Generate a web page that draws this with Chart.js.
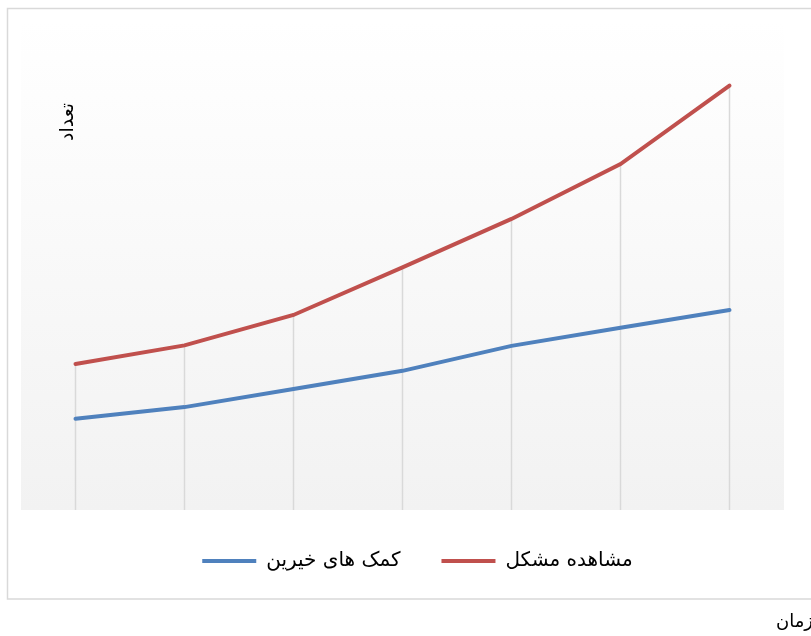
<!DOCTYPE html>
<html>
 <head>
  <meta charset="utf-8">
  <title>Chart</title>
  <style>
  html, body {
   margin: 0;
   padding: 0;
   background: #ffffff;
   overflow: hidden;
  }
  #wrap {
   position: relative;
   width: 811px;
   height: 636px;
   overflow: hidden;
  }
  #xtitle {
   position: absolute;
   left: 776px;
   top: 610px;
   font-family: "DejaVu Sans", sans-serif;
   font-size: 18px;
   color: #000;
   white-space: nowrap;
  }
  </style>
 </head>
 <body>
 <script src="https://cdn.jsdelivr.net/npm/chart.js@4.4.0/dist/chart.umd.min.js"></script>
 <div id="wrap">
  <canvas id="chart" width="811" height="636"></canvas>
  <div id="xtitle">زمان</div>
 </div>
 <script type="text/javascript">
 // data
 const labels = ['1', '2', '3', '4', '5', '6', '7'];
 const helpValues = [18.6, 21.0, 24.7, 28.4, 33.5, 37.2, 40.8];    // کمک های خیرین
 const problemValues = [29.8, 33.6, 39.8, 49.5, 59.4, 70.6, 86.6]; // مشاهده مشکل
 const yTitle = 'تعداد';

 const font = '"DejaVu Sans", sans-serif';

 // frame, plot background gradient and y title
 const decor = {
   id: 'decor',
   afterLayout(chart) {
     // legend sits a little right of centre in the original
     chart.legend.left += 15;
     chart.legend.right += 15;
   },
   beforeDraw(chart) {
     const ctx = chart.ctx;
     const a = chart.chartArea;
     ctx.save();
     ctx.strokeStyle = '#d9d9d9';
     ctx.lineWidth = 1.5;
     ctx.strokeRect(7.5, 8.5, 830, 590.5);
     const g = ctx.createLinearGradient(0, a.top, 0, a.bottom);
     g.addColorStop(0, '#ffffff');
     g.addColorStop(1, '#f2f2f2');
     ctx.fillStyle = g;
     ctx.fillRect(a.left, a.top, a.right - a.left, a.bottom - a.top);
     ctx.restore();
   },
   beforeDatasetsDraw(chart) {
     // drop lines from the highest point down to the axis
     const ctx = chart.ctx;
     const a = chart.chartArea;
     const metas = chart.getSortedVisibleDatasetMetas();
     ctx.save();
     ctx.strokeStyle = '#d9d9d9';
     ctx.lineWidth = 1.5;
     labels.forEach((l, i) => {
       let top = a.bottom;
       let x = 0;
       metas.forEach(m => {
         const p = m.data[i];
         x = p.x;
         if (p.y < top) top = p.y;
       });
       ctx.beginPath();
       ctx.moveTo(x, top);
       ctx.lineTo(x, a.bottom);
       ctx.stroke();
     });
     ctx.restore();
   },
   afterDraw(chart) {
     const ctx = chart.ctx;
     ctx.save();
     ctx.translate(68, 122);
     ctx.rotate(-Math.PI / 2);
     ctx.fillStyle = '#000';
     ctx.font = '19px ' + font;
     ctx.textAlign = 'center';
     ctx.textBaseline = 'middle';
     ctx.fillText(yTitle, 0, 0);
     ctx.restore();
   }
 };

 new Chart(document.getElementById('chart'), {
   type: 'line',
   data: {
     labels: labels,
     datasets: [{
       label: 'کمک های خیرین',
       data: helpValues,
       borderColor: '#4F81BD',
       backgroundColor: '#4F81BD',
       borderWidth: 4,
       borderCapStyle: 'round',
       pointRadius: 0,
       pointStyle: 'line',
       tension: 0
     }, {
       label: 'مشاهده مشکل',
       data: problemValues,
       borderColor: '#C0504D',
       backgroundColor: '#C0504D',
       borderWidth: 4,
       borderCapStyle: 'round',
       pointRadius: 0,
       pointStyle: 'line',
       tension: 0
     }]
   },
   options: {
     responsive: false,
     animation: false,
     layout: {
       padding: {left: 21, right: 27, top: 20, bottom: 55}
     },
     scales: {
       x: {display: false, offset: true},
       y: {display: false, min: 0, max: 100}
     },
     plugins: {
       tooltip: {enabled: false},
       legend: {
         position: 'bottom',
         labels: {
           usePointStyle: true,
           pointStyleWidth: 54,
           padding: 41,
           color: '#000',
           font: {family: font, size: 20}
         }
       }
     }
   },
   plugins: [decor]
 });
 </script>
 </body>
</html>
